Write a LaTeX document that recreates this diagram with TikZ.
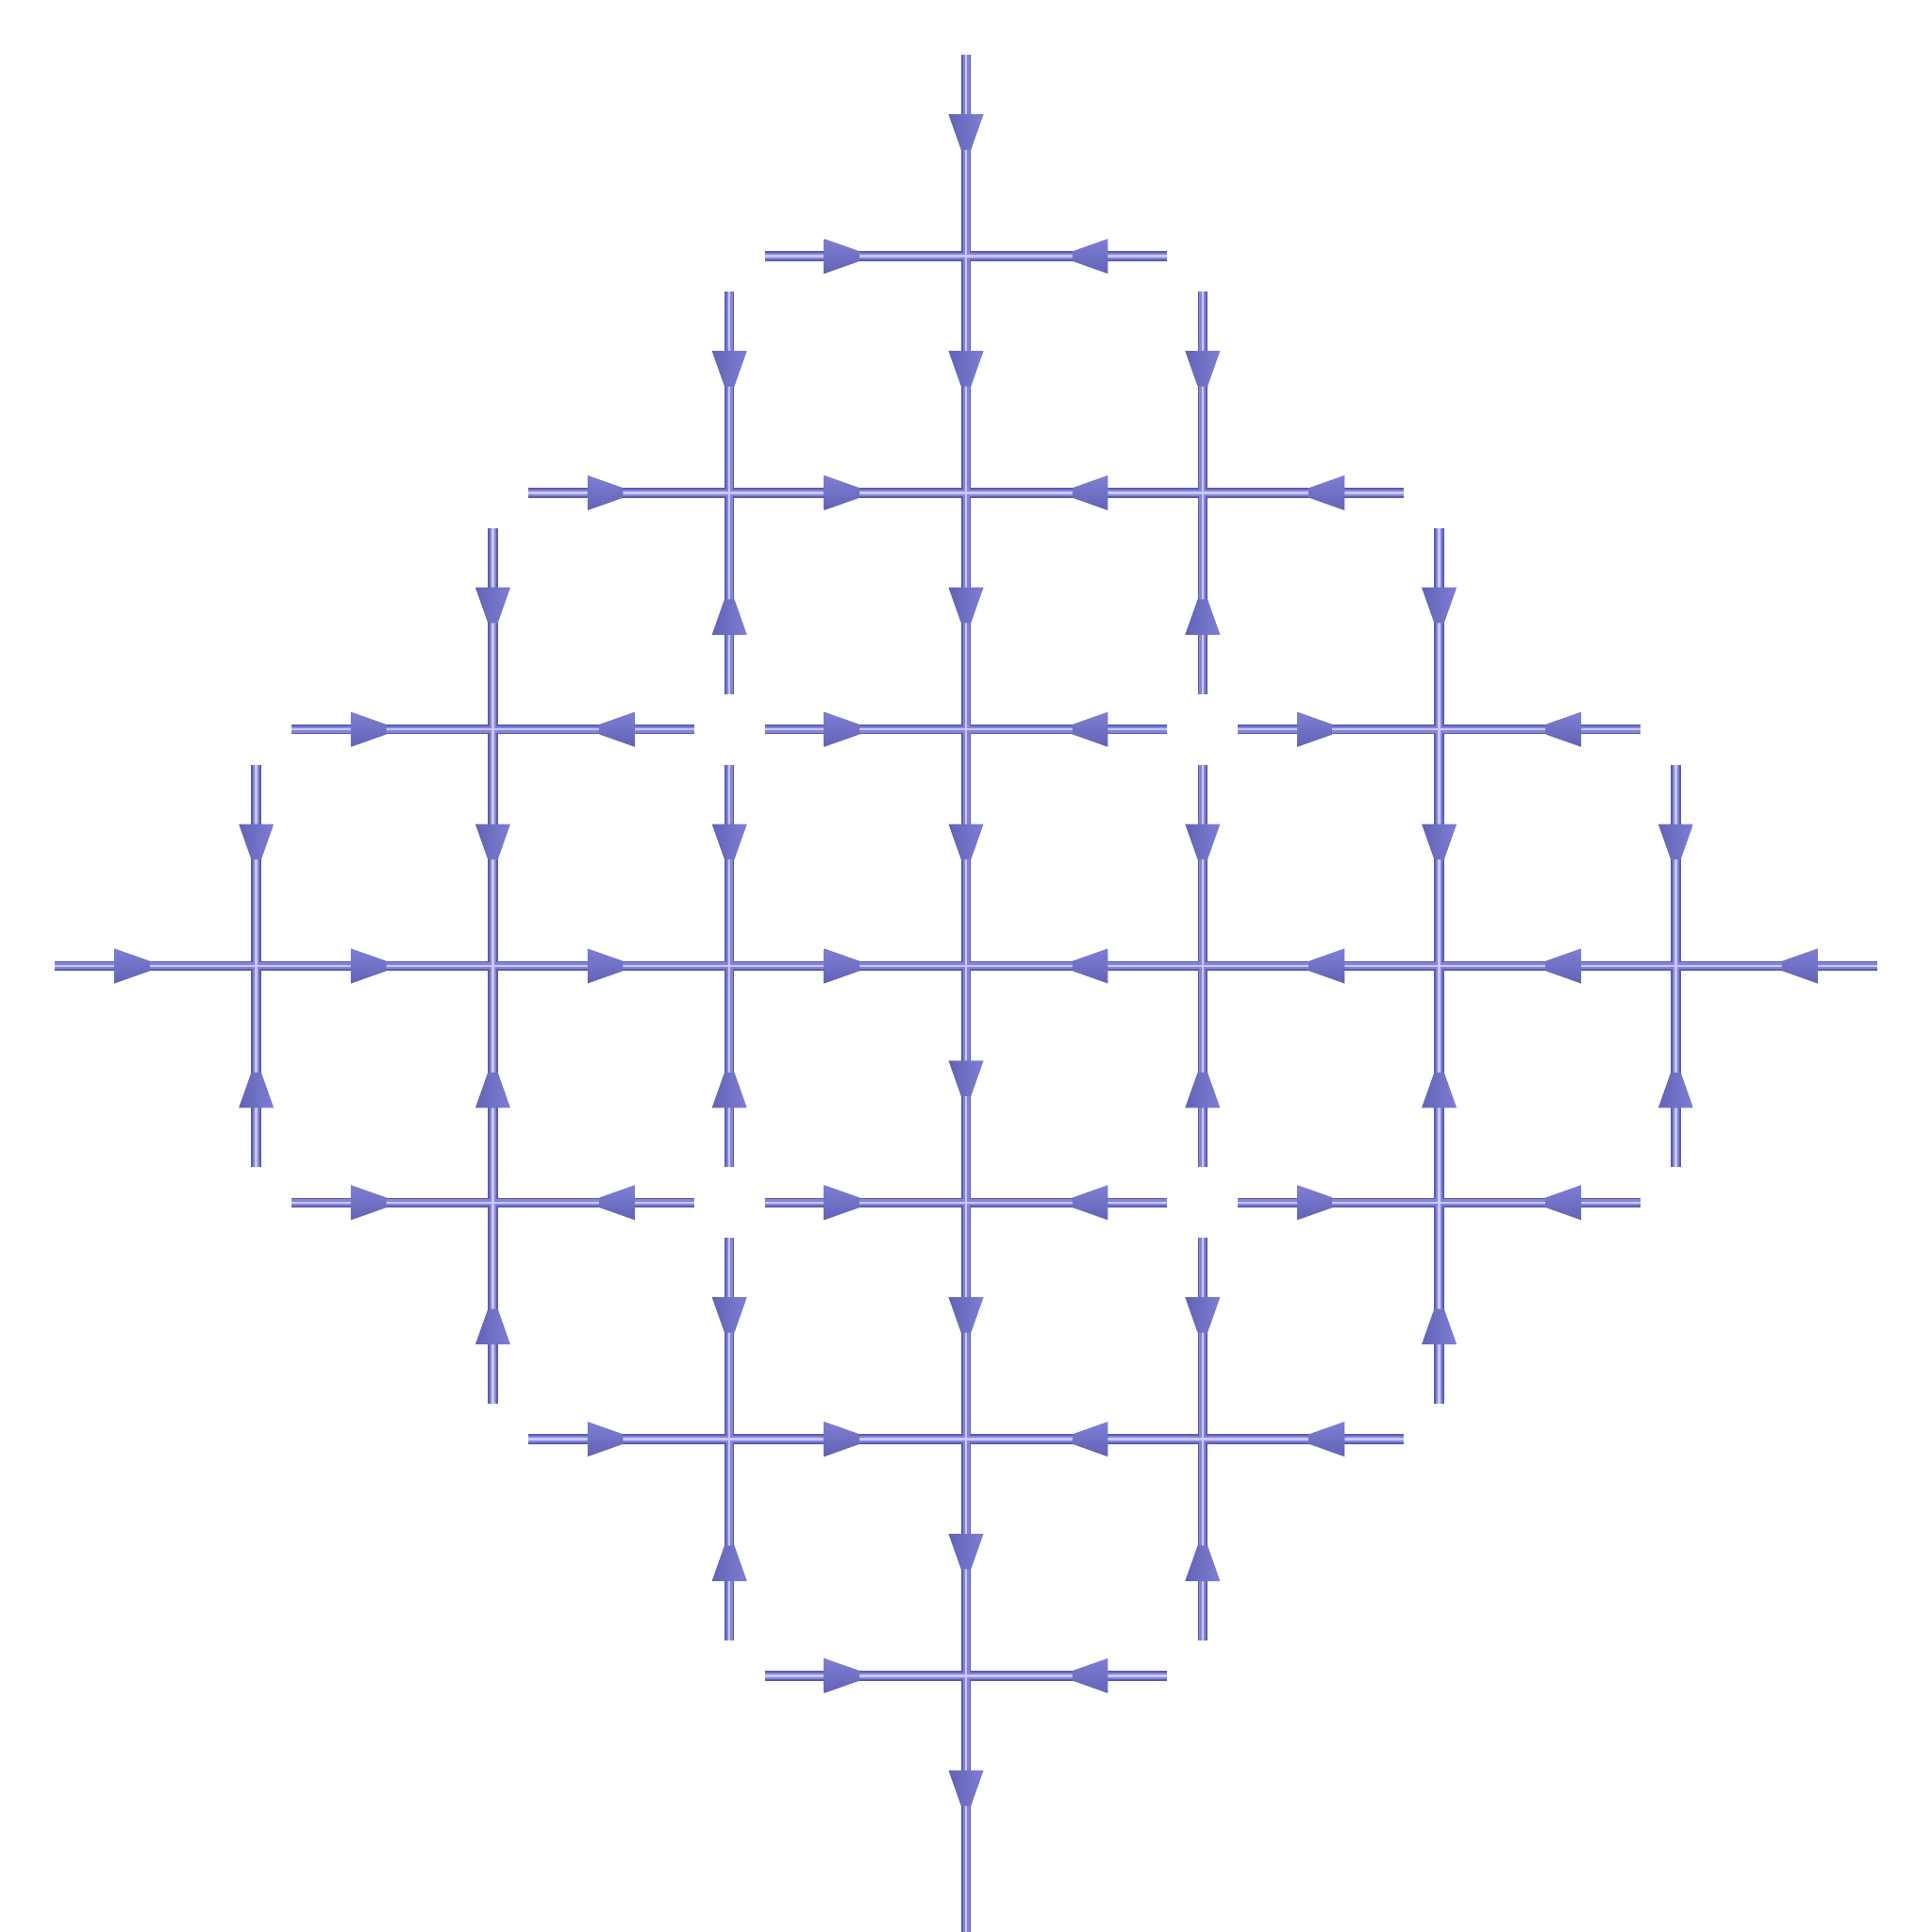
\documentclass[tikz,border=0pt]{standalone}
\usetikzlibrary{calc}
\definecolor{tubedark}{RGB}{92,92,172}
\definecolor{tubemid}{RGB}{132,132,218}
\definecolor{tubelight}{RGB}{200,200,254}
\definecolor{condark}{RGB}{98,98,182}
\definecolor{conmid}{RGB}{126,126,212}
\definecolor{conlight}{RGB}{162,162,240}
\tikzset{
  tubeA/.style={draw=tubedark,line width=0.042cm},
  tubeB/.style={draw=tubemid,line width=0.028cm},
  tubeC/.style={draw=tubelight,line width=0.010cm},
  vcone/.style={left color=condark,middle color=conlight,right color=conmid},
  hcone/.style={top color=conmid,middle color=conlight,bottom color=condark},
}
\newcommand\latarrow[3]{%
  \path ($(#1)!0.6cm!(#2)$) coordinate (ab) ($(#1)!0.45cm!(#2)$) coordinate (at);
  \path[#3] ($(ab)!0.074cm!90:(at)$) -- ($(ab)!0.074cm!-90:(at)$)
     -- ($(at)!0.021cm!90:(ab)$) -- ($(at)!0.021cm!-90:(ab)$) -- cycle;
}
\newcommand\tubesegs[1]{%
  \path[#1] (g47w) -- (g47e) (g36w) -- (g56e)
    (g25w) -- (g25e) (g45w) -- (g45e) (g65w) -- (g65e)
    (g14w) -- (g74e)
    (g23w) -- (g23e) (g43w) -- (g43e) (g63w) -- (g63e)
    (g32w) -- (g52e) (g41w) -- (g41e)
    (g47n) -- (g40s)
    (g36n) -- (g36s) (g34n) -- (g34s) (g32n) -- (g32s)
    (g56n) -- (g56s) (g54n) -- (g54s) (g52n) -- (g52s)
    (g25n) -- (g23s) (g65n) -- (g63s)
    (g14n) -- (g14s) (g74n) -- (g74s);
}
\begin{document}
\begin{tikzpicture}
\clip (-4.0833,-4.0833) rectangle (4.0833,4.0833);
\foreach \a in {0,...,8}{
  \foreach \b in {0,...,8}{
    \coordinate (g\a\b) at (\a-4,\b-4);
    \coordinate (g\a\b n) at (\a-4,\b-4+0.85);
    \coordinate (g\a\b s) at (\a-4,\b-4-0.85);
    \coordinate (g\a\b e) at (\a-4+0.85,\b-4);
    \coordinate (g\a\b w) at (\a-4-0.85,\b-4);
  }
}
\tubesegs{tubeA}
\tubesegs{tubeB}
\tubesegs{tubeC}
% vertical x=0
\latarrow{g47}{g47n}{vcone}
\latarrow{g46}{g47}{vcone}
\latarrow{g45}{g46}{vcone}
\latarrow{g44}{g45}{vcone}
\latarrow{g43}{g44}{vcone}
\latarrow{g42}{g43}{vcone}
\latarrow{g41}{g42}{vcone}
\latarrow{g40}{g41}{vcone}
% horizontal y=0
\latarrow{g14}{g14w}{hcone}
\latarrow{g24}{g14}{hcone}
\latarrow{g34}{g24}{hcone}
\latarrow{g44}{g34}{hcone}
\latarrow{g44}{g54}{hcone}
\latarrow{g54}{g64}{hcone}
\latarrow{g64}{g74}{hcone}
\latarrow{g74}{g74e}{hcone}
% horizontal y=2, y=-2
\foreach \b in {6,2}{
  \latarrow{g3\b}{g3\b w}{hcone}
  \latarrow{g4\b}{g3\b}{hcone}
  \latarrow{g4\b}{g5\b}{hcone}
  \latarrow{g5\b}{g5\b e}{hcone}
}
% horizontal y=1, y=-1
\foreach \b in {5,3}{
  \latarrow{g2\b}{g2\b w}{hcone}
  \latarrow{g2\b}{g2\b e}{hcone}
  \latarrow{g4\b}{g4\b w}{hcone}
  \latarrow{g4\b}{g4\b e}{hcone}
  \latarrow{g6\b}{g6\b w}{hcone}
  \latarrow{g6\b}{g6\b e}{hcone}
}
% horizontal y=3, y=-3
\foreach \b in {7,1}{
  \latarrow{g4\b}{g4\b w}{hcone}
  \latarrow{g4\b}{g4\b e}{hcone}
}
% vertical x=-1, x=1
\foreach \a in {3,5}{
  \latarrow{g\a6}{g\a6n}{vcone}
  \latarrow{g\a6}{g\a6s}{vcone}
  \latarrow{g\a4}{g\a4n}{vcone}
  \latarrow{g\a4}{g\a4s}{vcone}
  \latarrow{g\a2}{g\a2n}{vcone}
  \latarrow{g\a2}{g\a2s}{vcone}
}
% vertical x=-2, x=2
\foreach \a in {2,6}{
  \latarrow{g\a5}{g\a5n}{vcone}
  \latarrow{g\a4}{g\a5}{vcone}
  \latarrow{g\a4}{g\a3}{vcone}
  \latarrow{g\a3}{g\a3s}{vcone}
}
% vertical x=-3, x=3
\foreach \a in {1,7}{
  \latarrow{g\a4}{g\a4n}{vcone}
  \latarrow{g\a4}{g\a4s}{vcone}
}
\end{tikzpicture}
\end{document}
